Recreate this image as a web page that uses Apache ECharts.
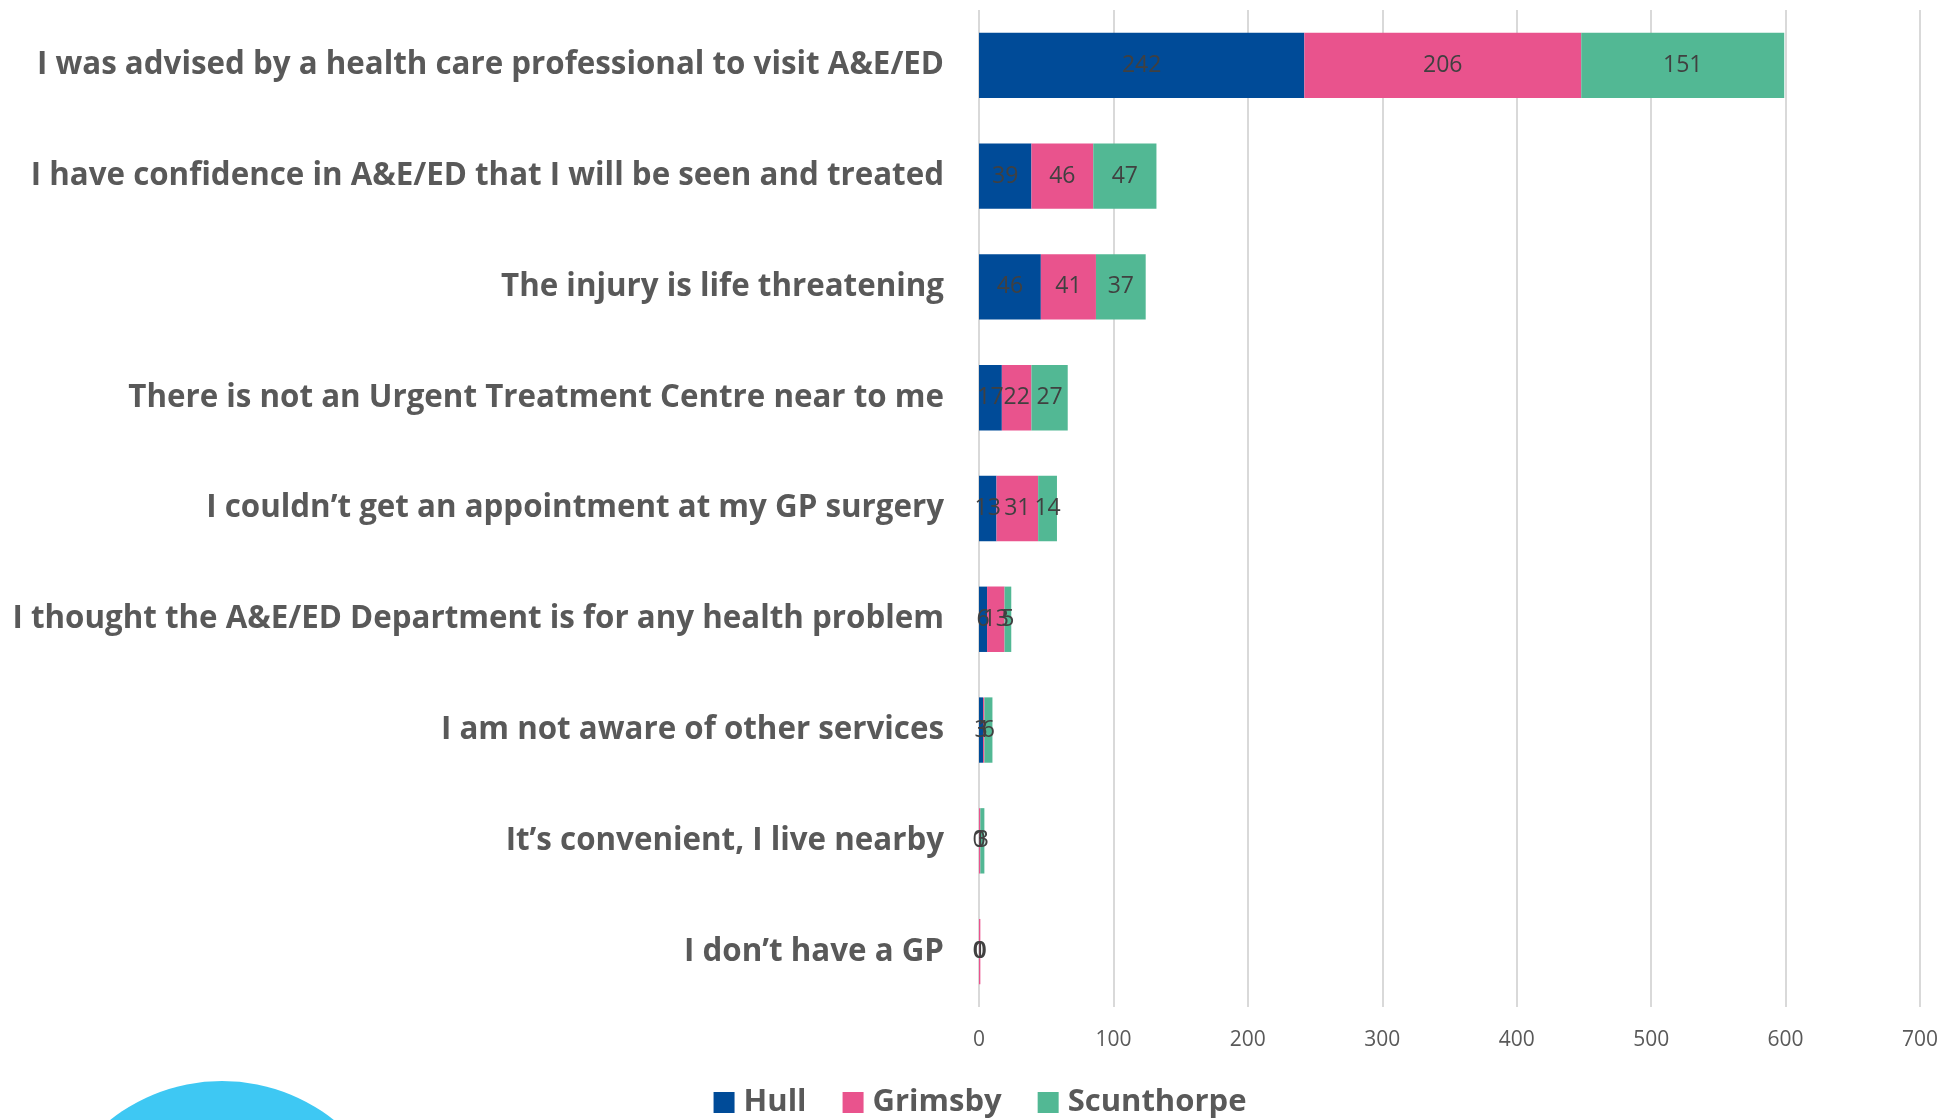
<!DOCTYPE html>
<html>
<head>
<meta charset="utf-8">
<script src="https://cdn.jsdelivr.net/npm/echarts@6/dist/echarts.min.js"></script>
<style>
  html, body { margin: 0; padding: 0; background: #ffffff; }
  #chart { width: 1960px; height: 1120px; }
</style>
</head>
<body>
<div id="chart"></div>
<script>
const categories = [
  'I was advised by a health care professional to visit A&E/ED',
  'I have confidence in A&E/ED that I will be seen and treated',
  'The injury is life threatening',
  'There is not an Urgent Treatment Centre near to me',
  'I couldn\u2019t get an appointment at my GP surgery',
  'I thought the A&E/ED Department is for any health problem',
  'I am not aware of other services',
  'It\u2019s convenient, I live nearby',
  'I don\u2019t have a GP'
];
const hull = [242, 39, 46, 17, 13, 6, 3, 0, 0];
const grimsby = [206, 46, 41, 22, 31, 13, 1, 1, 1];
const scunthorpe = [151, 47, 37, 27, 14, 5, 6, 3, 0];

const colors = { hull: '#004B98', grimsby: '#E9538D', scunthorpe: '#52B894' };
const textGray = '#595959';

const makeSeries = (name, data, color) => ({
  name,
  type: 'bar',
  stack: 'total',
  data,
  barCategoryGap: '41%',
  itemStyle: { color },
  label: {
    show: true,
    position: 'inside',
    color: '#404040',
    fontSize: 23,
    fontFamily: 'Open Sans',
  },
});

const chart = echarts.init(document.getElementById('chart'));
chart.setOption({
  animation: false,
  grid: { left: 979, right: 40, top: 10, bottom: 113 },
  legend: {
    top: 1082,
    left: 'center',
    icon: 'rect',
    itemWidth: 21,
    itemHeight: 21,
    itemGap: 36,
    textStyle: {
      color: textGray,
      fontSize: 31,
      fontWeight: 'bold',
      fontFamily: 'Open Sans',
      padding: [0, 0, 0, 4],
    },
  },
  xAxis: {
    type: 'value',
    min: 0,
    max: 700,
    interval: 100,
    axisLine: { show: false },
    axisTick: { show: false },
    axisLabel: { color: textGray, fontSize: 21, fontFamily: 'Open Sans', margin: 23 },
    splitLine: { lineStyle: { color: '#d9d9d9', width: 2 } },
  },
  yAxis: {
    type: 'category',
    data: categories,
    inverse: true,
    axisLine: { show: false },
    axisTick: { show: false },
    axisLabel: {
      color: textGray,
      fontSize: 31.3,
      fontWeight: 'bold',
      fontFamily: 'Open Sans',
      margin: 35,
    },
  },
  graphic: [
    {
      type: 'circle',
      shape: { cx: 222, cy: 1261, r: 180 },
      style: { fill: '#3EC8F3' },
      silent: true,
    },
  ],
  series: [
    makeSeries('Hull', hull, colors.hull),
    makeSeries('Grimsby', grimsby, colors.grimsby),
    makeSeries('Scunthorpe', scunthorpe, colors.scunthorpe),
  ],
});
</script>
</body>
</html>
